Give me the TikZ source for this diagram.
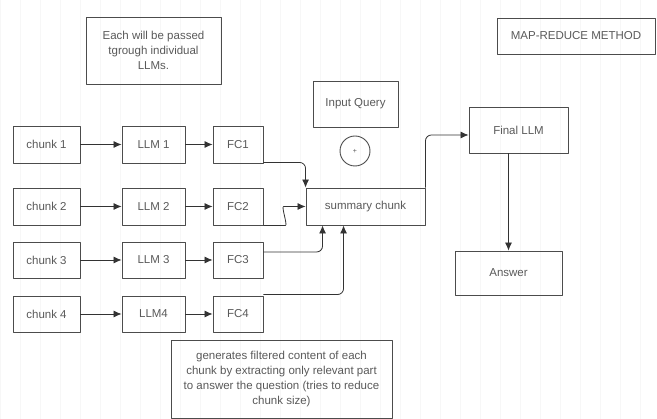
\documentclass[tikz,border=0pt]{standalone}
\usepackage{fontspec}
\setmainfont{Liberation Sans}
\usepackage{tikz}
\usetikzlibrary{arrows.meta}
\usepackage{xcolor}

\begin{document}
\begin{tikzpicture}[x=1pt,y=-1pt,>={Latex[length=8pt,width=7pt]},
  font=\fontsize{11.5}{15}\selectfont,line join=round,
  box/.style={draw=black!70,line width=0.9pt,text=black!65,inner sep=2pt,align=center},
  link/.style={->,draw=black!80,line width=0.8pt,rounded corners=6pt}]
\useasboundingbox (0,0) rectangle (657,419);
\draw[gray!6] (0,0) grid[step=20] (657,419);
% notes
\node[box,minimum width=135,minimum height=67] (note) at (153.5,50.5) {Each will be passed\\tgrough individual\\LLMs.};
\node[box,minimum width=158,minimum height=36] (title) at (576,36) {MAP-REDUCE METHOD};
\node[box,minimum width=221,minimum height=78] (filternote) at (281.5,379) {generates filtered content of each\\chunk by extracting only relevant part\\to answer the question (tries to reduce\\chunk size)};
% chunks, LLMs, filtered content
\node[box,minimum width=67,minimum height=37] (chunk1) at (46.5,144.5) {chunk 1};
\node[box,minimum width=67,minimum height=37] (chunk2) at (46.5,206.5) {chunk 2};
\node[box,minimum width=67,minimum height=36] (chunk3) at (46.5,260) {chunk 3};
\node[box,minimum width=67,minimum height=36] (chunk4) at (46.5,314) {chunk 4};
\node[box,minimum width=63,minimum height=37] (llm1) at (153.5,144.5) {LLM 1};
\node[box,minimum width=63,minimum height=37] (llm2) at (153.5,206.5) {LLM 2};
\node[box,minimum width=63,minimum height=36] (llm3) at (153.5,260) {LLM 3};
\node[box,minimum width=63,minimum height=36] (llm4) at (153.5,314) {LLM4};
\node[box,minimum width=50,minimum height=37] (fc1) at (238,144.5) {FC1};
\node[box,minimum width=50,minimum height=37] (fc2) at (238,206.5) {FC2};
\node[box,minimum width=50,minimum height=36] (fc3) at (238,260) {FC3};
\node[box,minimum width=50,minimum height=36] (fc4) at (238,314) {FC4};
% reduce part
\node[box,minimum width=85,minimum height=46] (query) at (355.5,104) {Input Query};
\node[box,circle,minimum size=30,inner sep=0pt,font=\scriptsize] (plus) at (355,151) {+};
\node[box,minimum width=119,minimum height=37] (summary) at (365.5,206.5) {summary chunk};
\node[box,minimum width=99,minimum height=46] (final) at (518.5,130) {Final LLM};
\node[box,minimum width=107,minimum height=44] (answer) at (508.5,273) {Answer};
% arrows
\foreach \i in {1,...,4}{
  \draw[link] (chunk\i.east) -- (llm\i.west);
  \draw[link] (llm\i.east) -- (fc\i.west);
}
\draw[link] ([yshift=1pt]fc1.south east) -| (summary.north west);
\draw[link] (fc2.south east) -- ++(16,0) to[out=0,in=180] ([xshift=-16pt]summary.west) -- (summary.west);
\draw[link] ([yshift=8pt]fc3.east) -| ([xshift=17pt]summary.south west);
\draw[link] ([yshift=1pt]fc4.north east) -| ([xshift=38pt]summary.south west);
\draw[link] (summary.north east) |- ([yshift=-5pt]final.west);
\draw[link] (answer.north |- final.south) -- (answer.north);
\end{tikzpicture}
\end{document}
